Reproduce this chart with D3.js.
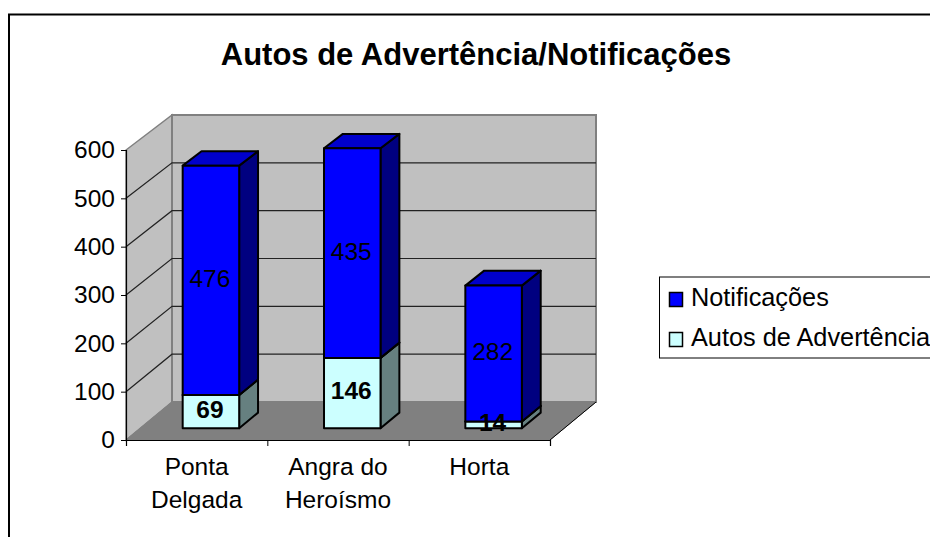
<!DOCTYPE html>
<html>
<head>
<meta charset="utf-8">
<script src="https://cdn.jsdelivr.net/npm/d3@7"></script>
<style>
html, body { margin: 0; padding: 0; background: #fff; overflow: hidden; }
svg { display: block; font-family: "Liberation Sans", Arial, sans-serif; }
</style>
</head>
<body>
<div id="chart"></div>
<script>
var categories = [["Ponta", "Delgada"], ["Angra do", "Heroísmo"], ["Horta"]];
var notificacoes = [476, 435, 282];
var autos = [69, 146, 14];
var yTicks = [0, 100, 200, 300, 400, 500, 600];
var legendItems = ["Notificações", "Autos de Advertência"];
var title = "Autos de Advertência/Notificações";

var width = 930, height = 537;
var svg = d3.select("#chart").append("svg")
	.attr("width", width)
	.attr("height", height);

// frame, cut off on the right and at the bottom
svg.append("path")
	.attr("d", "M9,537V14.5H930")
	.attr("fill", "none")
	.attr("stroke", "#000")
	.attr("stroke-width", 2);

svg.append("text")
	.attr("x", 476)
	.attr("y", 65)
	.attr("text-anchor", "middle")
	.attr("font-size", 31)
	.attr("font-weight", "bold")
	.text(title);

var x = d3.scaleBand().domain(d3.range(categories.length)).range([126, 550]);
var yFront = d3.scaleLinear().domain([0, 600]).range([440, 150]);
var yBack = d3.scaleLinear().domain([0, 600]).range([402, 115]);
var depthX = 46;

// z = 0 is the front of the floor, z = 1 the back wall
function pt(px, v, z) {
	return [px + depthX * z, yFront(v) + (yBack(v) - yFront(v)) * z];
}
function poly(points) {
	return "M" + points.map(function(p) { return p.join(","); }).join("L") + "Z";
}

var wallFill = "#c0c0c0", wallLine = "#808080";
var x0 = 126, x1 = 550;

// side wall, back wall, floor
svg.append("path").attr("d", poly([pt(x0, 0, 0), pt(x0, 600, 0), pt(x0, 600, 1), pt(x0, 0, 1)]))
	.attr("fill", wallFill).attr("stroke", wallLine).attr("stroke-width", 1.5);
svg.append("path").attr("d", poly([pt(x0, 0, 1), pt(x0, 600, 1), pt(x1, 600, 1), pt(x1, 0, 1)]))
	.attr("fill", wallFill).attr("stroke", wallLine).attr("stroke-width", 2);
svg.append("path").attr("d", poly([pt(x0, 0, 0), pt(x0, 0, 1), pt(x1, 0, 1), pt(x1, 0, 0)]))
	.attr("fill", "#808080").attr("stroke", "#808080");

// gridlines over side and back wall
var grid = svg.append("g").attr("fill", "none").attr("stroke", "#222").attr("stroke-width", 1.2);
yTicks.slice(1, -1).forEach(function(t) {
	var a = pt(x0, t, 0), b = pt(x0, t, 1), c = pt(x1, t, 1);
	grid.append("path").attr("d", "M" + a + "L" + b + "L" + c);
});

// front edge lines
svg.append("path")
	.attr("d", "M" + pt(x1, 0, 0) + "L" + pt(x1, 0, 1))
	.attr("fill", "none").attr("stroke", "#000");

// axes
var axisFont = 24.5;
var yAxis = d3.axisLeft(yFront).tickValues(yTicks).tickSize(5).tickPadding(6);
var gy = svg.append("g").attr("transform", "translate(126,0)").call(yAxis);
gy.selectAll("text").attr("font-size", axisFont).attr("font-family", null).attr("fill", "#000");

var tickScale = d3.scaleLinear().domain([0, 3]).range([x0, x1]);
var xAxis = d3.axisBottom(tickScale).tickValues([0, 1, 2, 3]).tickSize(6).tickFormat("");
svg.append("g").attr("transform", "translate(0,440)").call(xAxis);
svg.selectAll(".domain").attr("stroke", "#000").attr("stroke-width", 1.2);

var catLabels = svg.append("g").attr("font-size", axisFont).attr("text-anchor", "middle");
categories.forEach(function(lines, i) {
	lines.forEach(function(line, j) {
		catLabels.append("text")
			.attr("x", x(i) + x.bandwidth() / 2)
			.attr("y", 475 + j * 32.5)
			.text(line);
	});
});

// stacked boxes
var zFront = 0.31, zBack = 0.72, barW = 56.5;
var colors = {
	low: { front: "#ccffff", top: "#a3cccc", side: "#668080" },
	high: { front: "#0000ff", top: "#0000cc", side: "#000080" }
};
function drawBox(i, v0, v1, col) {
	var cx = x(i) + x.bandwidth() / 2;
	var l = cx - barW / 2, r = cx + barW / 2;
	var g = svg.append("g").attr("stroke", "#000").attr("stroke-width", 2).attr("stroke-linejoin", "round");
	g.append("path").attr("fill", col.side)
		.attr("d", poly([pt(r, v0, zFront), pt(r, v1, zFront), pt(r, v1, zBack), pt(r, v0, zBack)]));
	g.append("path").attr("fill", col.top)
		.attr("d", poly([pt(l, v1, zFront), pt(l, v1, zBack), pt(r, v1, zBack), pt(r, v1, zFront)]));
	g.append("path").attr("fill", col.front)
		.attr("d", poly([pt(l, v0, zFront), pt(l, v1, zFront), pt(r, v1, zFront), pt(r, v0, zFront)]));
}
categories.forEach(function(c, i) {
	drawBox(i, 0, autos[i], colors.low);
	drawBox(i, autos[i], autos[i] + notificacoes[i], colors.high);
});

// data labels
var labelFont = 24.5;
categories.forEach(function(c, i) {
	var cx = x(i) + x.bandwidth() / 2;
	var pa = pt(cx, autos[i] / 2, zFront);
	var pn = pt(cx, autos[i] + notificacoes[i] / 2, zFront);
	svg.append("text")
		.attr("x", pa[0] - 1).attr("y", pa[1])
		.attr("dy", "0.26em")
		.attr("text-anchor", "middle")
		.attr("font-size", labelFont)
		.attr("font-weight", "bold")
		.text(autos[i]);
	svg.append("text")
		.attr("x", pn[0] - 1).attr("y", pn[1])
		.attr("dy", "0.28em")
		.attr("text-anchor", "middle")
		.attr("font-size", labelFont)
		.text(notificacoes[i]);
});

// legend
var legend = svg.append("g");
legend.append("rect")
	.attr("x", 659.5).attr("y", 277)
	.attr("width", 280).attr("height", 81)
	.attr("fill", "#fff").attr("stroke", "#000");
var legendColors = [colors.high.front, colors.low.front];
legendItems.forEach(function(name, i) {
	var ly = 299 + i * 40;
	legend.append("rect")
		.attr("x", 669.5).attr("y", ly - 6.5)
		.attr("width", 13).attr("height", 14)
		.attr("fill", legendColors[i]).attr("stroke", "#000").attr("stroke-width", 1.5);
	legend.append("text")
		.attr("x", 691).attr("y", ly + 7)
		.attr("font-size", 25.3)
		.text(name);
});
</script>
</body>
</html>
